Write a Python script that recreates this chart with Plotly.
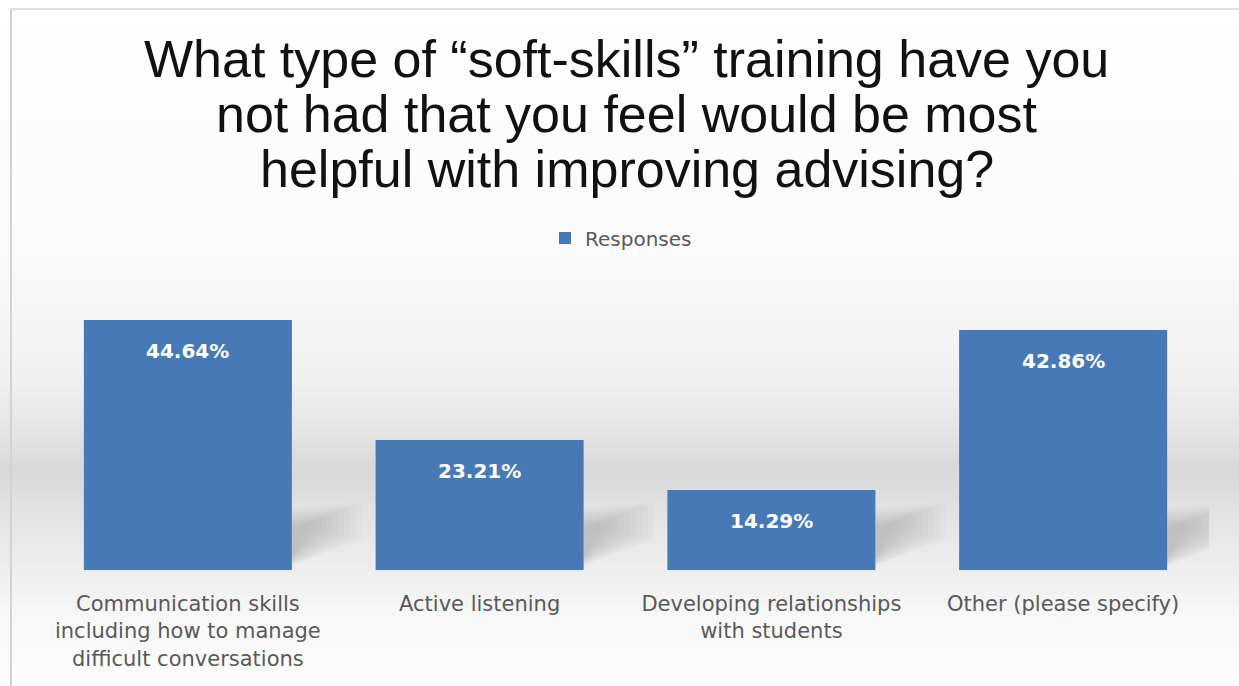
import plotly.graph_objects as go
import numpy as np

categories = ["Communication skills including how to manage difficult conversations",
              "Active listening",
              "Developing relationships with students",
              "Other (please specify)"]
tick_labels = ["Communication skills<br>including how to manage<br>difficult conversations",
               "Active listening",
               "Developing relationships<br>with students",
               "Other (please specify)"]
values = [44.64, 23.21, 14.29, 42.86]
series_name = "Responses"
title_lines = ["What type of \u201csoft-skills\u201d training have you",
               "not had that you feel would be most",
               "helpful with improving advising?"]

W, H = 1239, 686
def px(x):
    return x / W
def py(y):
    return 1 - y / H

BAR = "#4879b7"

fig = go.Figure()
fig.add_trace(go.Bar(
    x=categories, y=values, name=series_name,
    marker=dict(color=BAR, line=dict(width=0)),
    width=0.713, showlegend=True,
))

# background gradient bands
stops = [(0, 255), (250, 250), (380, 240), (440, 226), (470, 216), (520, 228),
         (570, 238), (620, 248), (686, 252)]
sy = [s[0] for s in stops]
sg = [s[1] for s in stops]
shapes = []
for y0 in range(0, H, 3):
    g = int(round(np.interp(y0 + 1.5, sy, sg)))
    c = f"rgb({g},{g},{g})"
    shapes.append(dict(type="rect", xref="paper", yref="paper",
                       x0=0, x1=1, y0=py(y0 + 3), y1=py(y0),
                       fillcolor=c, line=dict(width=0), layer="below"))

# soft floor shadows to the right of each bar (decorative)
n_layers = 10
for i in range(len(categories)):
    for k in range(n_layers):
        s = 1 - k / n_layers
        xr = i + 0.356
        x2 = xr + 0.04 + 0.2 * s
        path = (f"M {xr},{0.8 + 1.5*(1-s)} L {xr},{11.0 - 4.0*(1-s)} "
                f"L {x2},{12.0 - 4.0*(1-s)} L {x2},{5.5 + 2.0*(1-s)} Z")
        shapes.append(dict(type="path", xref="x", yref="y", path=path,
                           fillcolor="#7a7a7a", opacity=0.035, line=dict(width=0),
                           layer="below"))

# frame lines
shapes.append(dict(type="line", xref="paper", yref="paper",
                   x0=px(11), x1=px(11), y0=0, y1=py(9),
                   line=dict(color="#d2d2d2", width=2), layer="above"))
shapes.append(dict(type="line", xref="paper", yref="paper",
                   x0=px(11), x1=1, y0=py(9), y1=py(9),
                   line=dict(color="#dedede", width=2), layer="above"))

annotations = []
title_base = [76, 131, 186]
for t, b in zip(title_lines, title_base):
    annotations.append(dict(text=t, xref="paper", yref="paper",
                            x=px(627), y=py(b - 17), xanchor="center", yanchor="middle",
                            showarrow=False,
                            font=dict(family="Liberation Sans, Arial", size=52, color="#111111")))
for c, v in zip(categories, values):
    annotations.append(dict(text=f"{v:.2f}%", x=c, y=v, xref="x", yref="y",
                            yanchor="middle", yshift=-31, showarrow=False,
                            font=dict(family="DejaVu Sans", size=20, color="white", weight="bold")))

fig.update_layout(
    width=W, height=H,
    margin=dict(l=0, r=0, t=0, b=0),
    paper_bgcolor="white", plot_bgcolor="rgba(0,0,0,0)",
    bargap=0.287,
    shapes=shapes,
    annotations=annotations,
    showlegend=True,
    legend=dict(orientation="h", x=px(545), y=py(238), xanchor="left", yanchor="middle",
                bgcolor="rgba(0,0,0,0)", itemwidth=30,
                font=dict(family="DejaVu Sans", size=20, color="#595959")),
    xaxis=dict(domain=[px(42), px(1209)], range=[-0.5, 3.5], autorange=False,
               tickmode="array", tickvals=categories,
               ticktext=tick_labels, showgrid=False, zeroline=False, showline=False,
               ticks="", ticklabelstandoff=19,
               tickfont=dict(family="DejaVu Sans", size=21, color="#595959")),
    yaxis=dict(domain=[1 - 570 / H, 1 - 290 / H], range=[0, 50], visible=False,
               showgrid=False, zeroline=False),
)

fig.write_html("out.html")
